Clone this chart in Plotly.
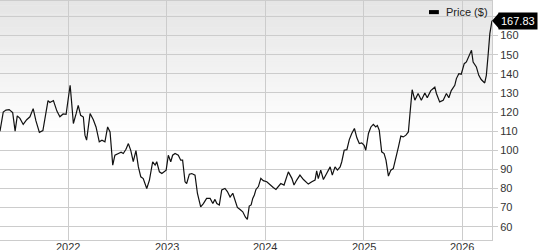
import plotly.graph_objects as go

dates = [
    "2021-04-23", "2021-05-05", "2021-05-15", "2021-05-27", "2021-06-09", "2021-06-18",
    "2021-06-26", "2021-07-06", "2021-07-18", "2021-07-31", "2021-08-12", "2021-08-24",
    "2021-09-03", "2021-09-16", "2021-09-29", "2021-10-18", "2021-10-25", "2021-11-07",
    "2021-11-20", "2021-12-01", "2021-12-13", "2021-12-24", "2022-01-02", "2022-01-08",
    "2022-01-13", "2022-01-20", "2022-01-30", "2022-02-07", "2022-02-16", "2022-02-26",
    "2022-03-04", "2022-03-10", "2022-03-23", "2022-04-04", "2022-04-14", "2022-04-26",
    "2022-05-06", "2022-05-17", "2022-05-27", "2022-06-05", "2022-06-15", "2022-06-23",
    "2022-07-06", "2022-07-16", "2022-07-24", "2022-08-03", "2022-08-12", "2022-08-21",
    "2022-08-30", "2022-09-09", "2022-09-18", "2022-09-27", "2022-10-06", "2022-10-19",
    "2022-10-29", "2022-11-10", "2022-11-19", "2022-11-25", "2022-12-05", "2022-12-14",
    "2022-12-30", "2023-01-07", "2023-01-16", "2023-01-23", "2023-02-01", "2023-02-13",
    "2023-02-22", "2023-03-01", "2023-03-10", "2023-03-16", "2023-03-26", "2023-04-04",
    "2023-04-16", "2023-04-25", "2023-05-07", "2023-05-17", "2023-05-29", "2023-06-11",
    "2023-06-21", "2023-06-29", "2023-07-06", "2023-07-15", "2023-07-24", "2023-08-05",
    "2023-08-14", "2023-08-24", "2023-09-03", "2023-09-11", "2023-09-20", "2023-09-30",
    "2023-10-10", "2023-10-20", "2023-10-27", "2023-11-03", "2023-11-10", "2023-11-16",
    "2023-11-22", "2023-11-28", "2023-12-07", "2023-12-16", "2023-12-25", "2024-01-07",
    "2024-01-19", "2024-01-31", "2024-02-10", "2024-02-19", "2024-02-28", "2024-03-11",
    "2024-03-27", "2024-04-09", "2024-04-17", "2024-04-27", "2024-05-09", "2024-05-22",
    "2024-06-01", "2024-06-09", "2024-06-22", "2024-07-04", "2024-07-10", "2024-07-16",
    "2024-07-25", "2024-08-04", "2024-08-16", "2024-08-29", "2024-09-06", "2024-09-16",
    "2024-09-25", "2024-10-05", "2024-10-11", "2024-10-20", "2024-10-30", "2024-11-08",
    "2024-11-17", "2024-11-27", "2024-12-06", "2024-12-15", "2024-12-24", "2025-01-02",
    "2025-01-08", "2025-01-18", "2025-01-27", "2025-02-05", "2025-02-14", "2025-02-20",
    "2025-02-27", "2025-03-08", "2025-03-17", "2025-03-24", "2025-04-02", "2025-04-11",
    "2025-04-20", "2025-05-03", "2025-05-09", "2025-05-18", "2025-05-27", "2025-06-06",
    "2025-06-15", "2025-06-21", "2025-06-29", "2025-07-09", "2025-07-21", "2025-08-02",
    "2025-08-15", "2025-08-24", "2025-09-06", "2025-09-21", "2025-09-27", "2025-10-09",
    "2025-10-22", "2025-11-03", "2025-11-12", "2025-11-21", "2025-12-04", "2025-12-10",
    "2025-12-19", "2025-12-28", "2026-01-08", "2026-01-16", "2026-01-25", "2026-02-04",
    "2026-02-10", "2026-02-22", "2026-03-03", "2026-03-12", "2026-03-25", "2026-03-31",
    "2026-04-07", "2026-04-13", "2026-04-21",
]

prices = [
    110.0, 120.0, 121.0, 121.3, 119.7, 110.0,
    118.0, 116.7, 113.5, 116.0, 117.5, 121.8,
    115.5, 109.4, 110.3, 126.0, 125.0, 126.0,
    120.5, 117.5, 119.0, 118.8, 128.0, 134.0,
    126.0, 114.0, 119.0, 123.5, 118.3, 117.4,
    107.9, 105.3, 119.2, 116.0, 112.2, 104.4,
    105.3, 104.4, 112.2, 109.6, 92.2, 97.4,
    98.3, 99.0, 98.3, 100.5, 103.5, 99.8,
    94.0, 99.8, 91.3, 86.1, 85.2, 80.0,
    84.4, 94.0, 92.2, 94.0, 88.7, 87.8,
    89.6, 97.4, 94.0, 97.4, 98.3, 97.4,
    94.8, 94.8, 83.5, 82.6, 87.5, 87.8,
    87.0, 77.4, 70.4, 72.1, 74.8, 74.8,
    72.1, 74.3, 72.1, 71.3, 79.2, 80.0,
    78.4, 75.5, 77.5, 74.1, 70.1, 69.0,
    67.8, 65.0, 63.8, 70.8, 71.4, 74.8,
    76.6, 79.5, 81.0, 85.3, 84.1, 83.5,
    81.8, 80.5, 79.5, 81.0, 82.6, 81.8,
    88.7, 85.3, 81.8, 84.4, 87.0, 84.7,
    83.5, 82.3, 83.5, 84.4, 89.2, 85.2,
    89.6, 84.7, 87.8, 91.3, 87.0, 91.3,
    89.6, 91.3, 94.0, 100.0, 100.3, 105.6,
    108.8, 111.4, 106.5, 103.5, 103.9, 102.6,
    100.0, 108.8, 112.2, 113.6, 112.2, 113.0,
    110.5, 99.2, 98.3, 94.8, 86.5, 89.6,
    90.4, 99.2, 101.7, 107.4, 107.0, 107.9,
    109.6, 119.2, 131.7, 126.2, 129.7, 126.2,
    130.0, 127.5, 131.2, 133.0, 129.7, 125.3,
    126.2, 129.7, 127.5, 131.2, 134.0, 137.5,
    140.1, 139.8, 145.3, 146.2, 149.1, 152.3,
    146.2, 143.6, 139.2, 137.0, 135.2, 139.2,
    150.5, 161.0, 167.83,
]

y_ticks = [60, 70, 80, 90, 100, 110, 120, 130, 140, 150, 160, 170]
y_ticktext = ["60", "70", "80", "90", "100", "110", "120", "130", "140", "150", "160", ""]
x_ticks = ["2022-01-01", "2023-01-01", "2024-01-01", "2025-01-01", "2026-01-01"]
x_ticktext = ["2022", "2023", "2024", "2025", "2026"]
series_name = "Price ($)"
last_price = prices[-1]

FONT = "Liberation Sans, Arial, Helvetica, sans-serif"

fig = go.Figure()
fig.add_trace(go.Scatter(
    x=dates, y=prices, mode="lines", name=series_name,
    line=dict(color="#111111", width=1.2), showlegend=False,
))

shapes = []
# background gradient (top grey fading to white)
n = 60
top_frac = 0.55
for i in range(n):
    y1 = 1 - i * top_frac / n
    y0 = 1 - (i + 1) * top_frac / n - 0.002
    c = int(229 + (255 - 229) * (i + 0.5) / n)
    shapes.append(dict(type="rect", xref="paper", yref="paper", x0=0, x1=1,
                       y0=max(y0, 0), y1=y1, fillcolor=f"rgb({c},{c},{c})",
                       line=dict(width=0), layer="below"))

# price flag pointer
shapes.append(dict(type="path", xref="paper", yref="y", xsizemode="pixel",
                   ysizemode="pixel", xanchor=1, yanchor=last_price,
                   path="M 0 0 L 7 8 L 7 -8 Z", fillcolor="#000000",
                   line=dict(width=0), layer="above"))
# legend swatch
shapes.append(dict(type="rect", xref="paper", yref="paper", x0=0.872, x1=0.892,
                   y0=0.945, y1=0.962, fillcolor="#000000", line=dict(width=0)))

annotations = [
    dict(text=series_name, xref="paper", yref="paper", x=0.903, y=0.953,
         xanchor="left", yanchor="middle", showarrow=False,
         font=dict(family=FONT, size=11, color="#222222")),
    dict(text=f"{last_price:.2f}", xref="paper", yref="y", x=1, y=last_price,
         xanchor="left", yanchor="middle", xshift=6, showarrow=False,
         bgcolor="#000000", borderpad=2,
         font=dict(family=FONT, size=11, color="#ffffff")),
]
# x-axis year labels placed just under the plot area
for xv, xt in zip(x_ticks, x_ticktext):
    annotations.append(dict(text=xt, xref="x", yref="paper", x=xv, y=0,
                            xanchor="center", yanchor="top", yshift=1,
                            showarrow=False,
                            font=dict(family=FONT, size=11, color="#333333")))

fig.update_layout(
    width=538, height=250,
    margin=dict(l=0, r=46, t=1, b=10),
    paper_bgcolor="#ffffff", plot_bgcolor="#ffffff",
    font=dict(family=FONT, size=11, color="#333333"),
    shapes=shapes, annotations=annotations,
    xaxis=dict(
        type="date", range=["2021-04-23", "2026-04-21"],
        tickvals=x_ticks, ticktext=x_ticktext, showticklabels=False,
        showgrid=True, gridcolor="#cccccc", gridwidth=1,
        showline=True, linecolor="#cccccc", linewidth=1, mirror=True,
        ticks="", zeroline=False, automargin=False,
    ),
    yaxis=dict(
        side="right", range=[53.05, 178.1],
        tickvals=y_ticks, ticktext=y_ticktext,
        showgrid=True, gridcolor="#cccccc", gridwidth=1,
        showline=True, linecolor="#cccccc", linewidth=1,
        ticks="outside", ticklen=5, tickcolor="#cccccc",
        zeroline=False, automargin=False,
        tickfont=dict(family=FONT, size=11, color="#333333"),
    ),
)

fig.write_html("out.html")
